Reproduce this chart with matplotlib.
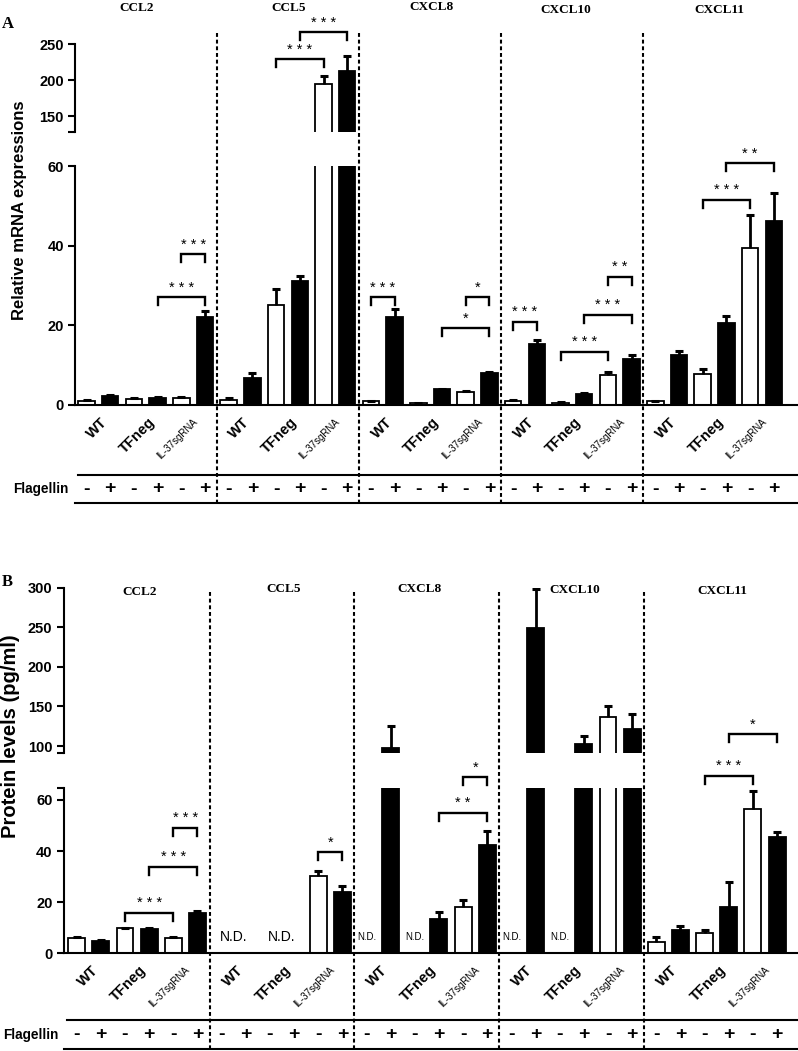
import numpy as np
import matplotlib
matplotlib.use('Agg')
import matplotlib.pyplot as plt
from matplotlib import transforms
from matplotlib.lines import Line2D

plt.rcParams['lines.scale_dashes'] = False
plt.rcParams['font.family'] = ['Liberation Sans', 'DejaVu Sans']
SERIF = 'Liberation Serif'

W, H = 798, 1051

# ---------------- data ----------------
genes = ['CCL2', 'CCL5', 'CXCL8', 'CXCL10', 'CXCL11']
cell_lines = ['WT', 'TFneg', 'IL-37sgRNA']
flagellin = ['-', '+']

# Panel A: relative mRNA expressions (mean and upper SEM)
mrna_ccl2 = [1.0, 2.3, 1.4, 1.8, 1.7, 22.2]
mrna_ccl5 = [1.3, 6.7, 25.1, 31.2, 194.0, 213.0]
mrna_cxcl8 = [0.9, 22.0, 0.4, 3.9, 3.3, 8.0]
mrna_cxcl10 = [1.1, 15.3, 0.6, 2.8, 7.6, 11.5]
mrna_cxcl11 = [0.9, 12.6, 7.8, 20.5, 39.4, 46.3]
mrna_err_ccl2 = [0.2, 0.3, 0.3, 0.2, 0.2, 1.5]
mrna_err_ccl5 = [0.5, 1.3, 4.0, 1.3, 12.0, 21.0]
mrna_err_cxcl8 = [0.2, 2.2, 0.1, 0.2, 0.3, 0.4]
mrna_err_cxcl10 = [0.2, 1.0, 0.2, 0.2, 0.6, 1.1]
mrna_err_cxcl11 = [0.2, 1.0, 1.2, 1.9, 8.2, 7.0]

# Panel B: protein levels (pg/ml), N.D. = not detected
ND = np.nan
prot_ccl2 = [5.9, 4.9, 9.8, 9.4, 5.9, 15.9]
prot_ccl5 = [ND, ND, ND, ND, 30.3, 24.1]
prot_cxcl8 = [ND, 97.5, ND, 13.3, 18.2, 42.4]
prot_cxcl10 = [ND, 248.6, ND, 102.2, 136.7, 122.0]
prot_cxcl11 = [4.5, 9.1, 8.1, 18.2, 56.5, 45.6]
prot_err_ccl2 = [0.4, 0.3, 0.2, 0.6, 0.3, 0.8]
prot_err_ccl5 = [0.0, 0.0, 0.0, 0.0, 1.9, 2.2]
prot_err_cxcl8 = [0.0, 27.8, 0.0, 2.7, 2.7, 5.6]
prot_err_cxcl10 = [0.0, 49.8, 0.0, 10.1, 13.9, 18.1]
prot_err_cxcl11 = [1.8, 1.6, 1.0, 9.8, 7.0, 1.8]

# N.D. annotations: (bar position, big label?)
nd_b = [(6.5, True), (8.5, True), (12, False), (14, False), (18, False), (20, False)]

# significance brackets: (axis part, first bar, last bar, bracket height, stars)
sig_a = [('lo', 3, 5, 27.0, '***'), ('lo', 4, 5, 37.9, '***'),
         ('hi', 8, 10, 228.7, '***'), ('hi', 9, 11, 266.3, '***'),
         ('lo', 12, 13, 27.0, '***'), ('lo', 15, 17, 19.3, '*'),
         ('lo', 16, 17, 27.0, '*'), ('lo', 18, 19, 20.9, '***'),
         ('lo', 20, 22, 13.4, '***'), ('lo', 21, 23, 22.6, '***'),
         ('lo', 22, 23, 32.2, '**'), ('lo', 26, 28, 51.5, '***'),
         ('lo', 27, 29, 60.7, '**')]
sig_b = [('lo', 2, 4, 15.9, '***'), ('lo', 3, 5, 33.9, '***'),
         ('lo', 4, 5, 49.2, '***'), ('lo', 10, 11, 39.5, '*'),
         ('lo', 15, 17, 55.0, '**'), ('lo', 16, 17, 68.9, '*'),
         ('lo', 26, 28, 69.5, '***'), ('hi', 27, 29, 114.8, '*')]

mrna = np.concatenate([mrna_ccl2, mrna_ccl5, mrna_cxcl8, mrna_cxcl10, mrna_cxcl11])
mrna_err = np.concatenate([mrna_err_ccl2, mrna_err_ccl5, mrna_err_cxcl8,
                           mrna_err_cxcl10, mrna_err_cxcl11])
prot = np.concatenate([prot_ccl2, prot_ccl5, prot_cxcl8, prot_cxcl10, prot_cxcl11])
prot_err = np.concatenate([prot_err_ccl2, prot_err_ccl5, prot_err_cxcl8,
                           prot_err_cxcl10, prot_err_cxcl11])

# ---------------- figure ----------------
fig = plt.figure(figsize=(W / 100, H / 100), dpi=100)


def px_axes(left, top, right, bottom):
    return fig.add_axes([left / W, 1 - bottom / H, (right - left) / W, (bottom - top) / H])


def style_axis(ax, xlim, ylim, ticks, labels, bottom):
    ax.set_xlim(*xlim)
    ax.set_ylim(*ylim)
    ax.set_xticks([])
    ax.set_yticks(ticks)
    ax.set_yticklabels(labels, fontweight='bold', fontsize=10.5)
    for s in ['top', 'right']:
        ax.spines[s].set_visible(False)
    ax.spines['bottom'].set_visible(bottom)
    for s in ['left', 'bottom']:
        ax.spines[s].set_linewidth(1.5)
    ax.tick_params(axis='y', direction='out', length=5, width=1.5, pad=3)
    ax.patch.set_alpha(0)


def draw_bars(ax, vals, errs):
    x = np.arange(len(vals))
    colors = ['white', 'black'] * (len(vals) // 2)
    ok = np.isfinite(vals)
    ax.bar(x[ok], vals[ok], width=0.7, color=np.array(colors)[ok],
           edgecolor='black', linewidth=1.3, zorder=2)
    has = ok & (errs > 0)
    eb = ax.errorbar(x[has], vals[has], yerr=[np.zeros(has.sum()), errs[has]],
                     fmt='none', ecolor='black', elinewidth=2.0, capsize=3.2,
                     capthick=2.2, zorder=3)
    eb[1][0].set_visible(False)


def bracket(ax, i, j, y, label, leg_px=8, star_px=11):
    ppu = ax.bbox.height / (ax.get_ylim()[1] - ax.get_ylim()[0])
    leg = leg_px / ppu
    ax.plot([i, i, j, j], [y - leg, y, y, y - leg], color='black', lw=1.7,
            clip_on=False, zorder=4, solid_joinstyle='miter')
    ax.text((i + j) / 2, y + star_px / ppu, ' '.join(label), ha='center',
            va='center_baseline', fontsize=10.5, clip_on=False)


def ftext(xpx, ypx, s, **kw):
    fig.text(xpx / W, 1 - ypx / H, s, **kw)


def fline(x0, x1, y, lw=1.5):
    fig.add_artist(Line2D([x0 / W, x1 / W], [1 - y / H, 1 - y / H], color='black', lw=lw))


def xfig(ax):
    return transforms.blended_transform_factory(ax.transData, fig.transFigure)


def vdash(ax, xd, y0, y1):
    fig.add_artist(Line2D([xd, xd], [1 - y0 / H, 1 - y1 / H], transform=xfig(ax),
                          color='black', lw=1.5, linestyle=(0, (2.8, 2.0))))


def lower_labels(ax, ybase, yflag_top, yflag_bot, flag_x, left_x):
    tr = xfig(ax)
    ppu_x = ax.bbox.width / (ax.get_xlim()[1] - ax.get_xlim()[0])
    for g in range(5):
        for c, name in enumerate(cell_lines):
            xc = g * 6 + c * 2 + 0.5
            if name == 'IL-37sgRNA':
                ax.text(xc + 3 / ppu_x, 1 - (ybase + 15) / H, name, transform=tr,
                        rotation=45, rotation_mode='anchor', ha='right',
                        va='center', fontsize=7)
            else:
                ax.text(xc + 7 / ppu_x, 1 - (ybase + 15) / H, name, transform=tr,
                        rotation=45, rotation_mode='anchor', ha='right',
                        va='center', fontsize=10.5, fontweight='bold')
    for k in range(30):
        ax.text(k, 1 - (yflag_top + yflag_bot) / 2 / H, flagellin[k % 2], transform=tr,
                ha='center', va='center', fontsize=14, fontweight='bold')
    fline(left_x + 3, W, yflag_top)
    fline(left_x, W, yflag_bot)
    ftext(flag_x, (yflag_top + yflag_bot) / 2, 'Flagellin', ha='left', va='center',
          fontsize=9.8, fontweight='bold')


# ---------------- Panel A ----------------
xa = ((75 - 86.5) / 23.7, (797 - 86.5) / 23.7)
axA_lo = px_axes(75, 166, 797, 405)
axA_hi = px_axes(75, 44, 797, 132)
style_axis(axA_lo, xa, (0, 60), [0, 20, 40, 60], ['0', '20', '40', '60'], True)
style_axis(axA_hi, xa, (128, 250), [128, 150, 200, 250], ['', '150', '200', '250'], False)
draw_bars(axA_lo, mrna, mrna_err)
draw_bars(axA_hi, mrna, mrna_err)
for part, i, j, y, lab in sig_a:
    bracket(axA_lo if part == 'lo' else axA_hi, i, j, y, lab)
for b in [5.5, 11.5, 17.5, 23.5]:
    vdash(axA_lo, b, 33, 505)
lower_labels(axA_lo, 405, 475, 503, 13, 75)
ftext(20, 210, 'Relative mRNA expressions', rotation=90, ha='center', va='center',
      fontsize=12, fontweight='bold')
for name, xp, yp in zip(genes, [137, 289, 431, 566, 719], [8, 8, 7, 10, 10]):
    ftext(xp, yp, name, ha='center', va='center', family=SERIF, fontweight='bold', fontsize=9.5)
ftext(2, 24, 'A', ha='left', va='center', family=SERIF, fontweight='bold', fontsize=12)

# ---------------- Panel B ----------------
xb = ((63.5 - 76.7) / 24.15, (797 - 76.7) / 24.15)
axB_lo = px_axes(63.5, 787.7, 797, 953.3)
axB_hi = px_axes(63.5, 587.7, 797, 753.3)
style_axis(axB_lo, xb, (0, 64.8), [0, 20, 40, 60, 64.8], ['0', '20', '40', '60', ''], True)
style_axis(axB_hi, xb, (90.8, 300), [90.8, 100, 150, 200, 250, 300],
           ['', '100', '150', '200', '250', '300'], False)
draw_bars(axB_lo, prot, prot_err)
draw_bars(axB_hi, prot, prot_err)
for part, i, j, y, lab in sig_b:
    bracket(axB_lo if part == 'lo' else axB_hi, i, j, y, lab)
for pos, big in nd_b:
    axB_lo.text(pos, 1 - 937 / H, 'N.D.', transform=xfig(axB_lo),
                ha='center', va='center', fontsize=10 if big else 7)
for b in [5.5, 11.5, 17.5, 23.5]:
    vdash(axB_lo, b, 592, 1051)
lower_labels(axB_lo, 953.3, 1020, 1049, 3, 64)
ftext(11, 736, 'Protein levels (pg/ml)', rotation=90, ha='center', va='center',
      fontsize=14.5, fontweight='bold')
for name, xp, yp in zip(genes, [139.5, 284, 419, 575, 722], [592, 589, 589, 590, 591]):
    ftext(xp, yp, name, ha='center', va='center', family=SERIF, fontweight='bold', fontsize=9.5)
ftext(2, 582, 'B', ha='left', va='center', family=SERIF, fontweight='bold', fontsize=12)

fig.savefig('out.png', dpi=100)
